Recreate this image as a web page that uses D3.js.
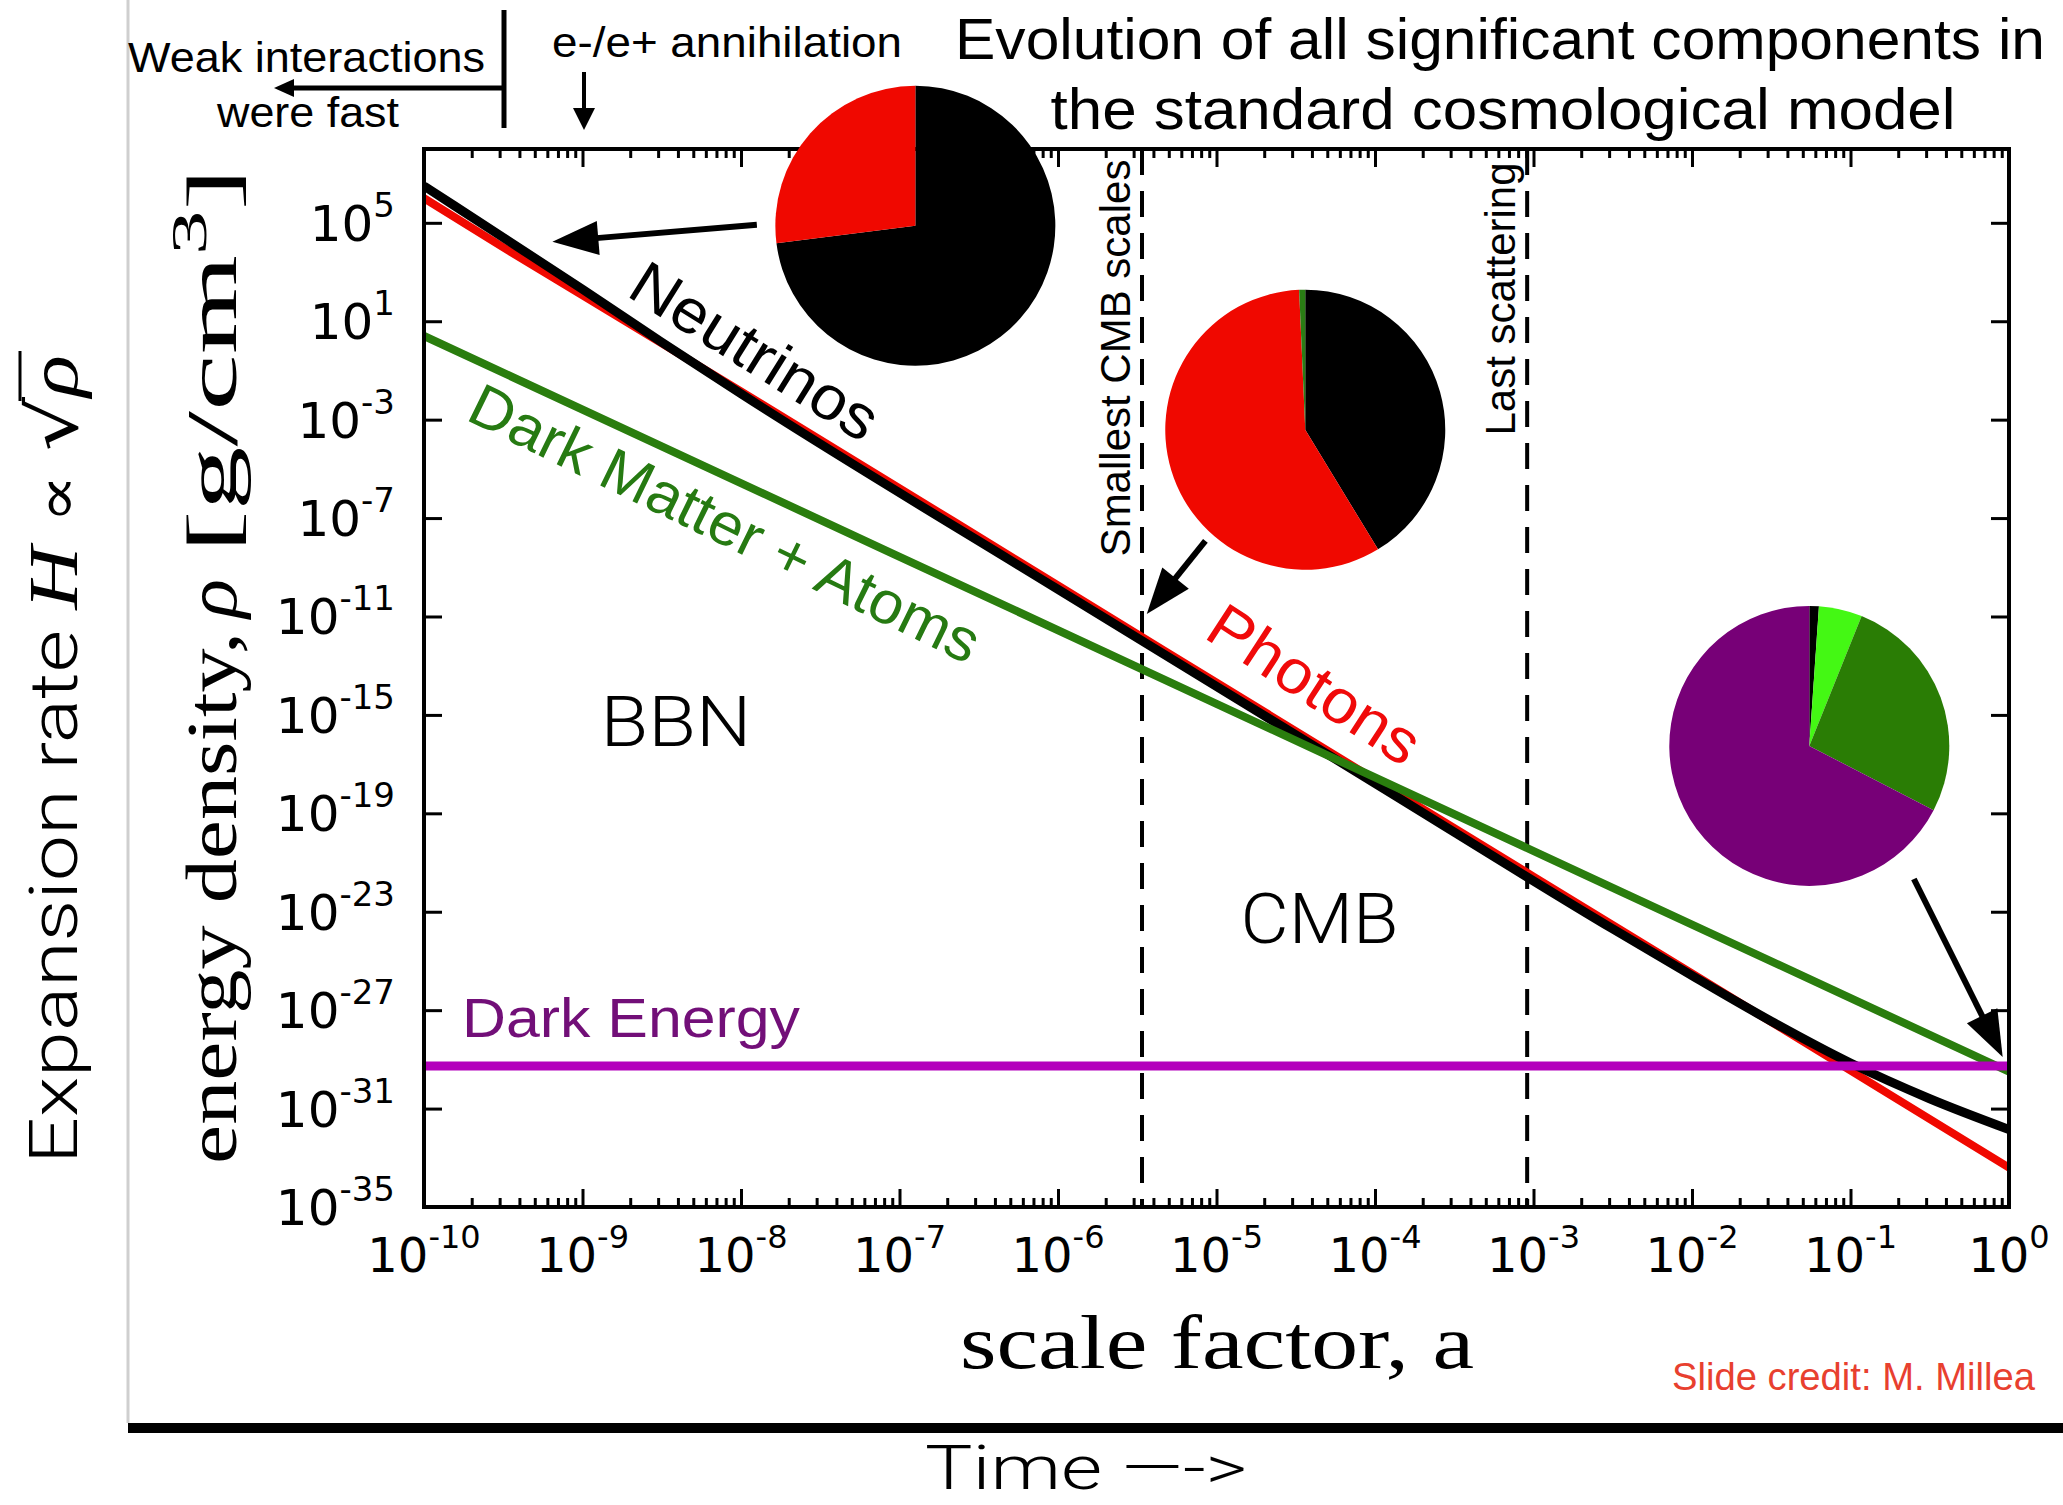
<!DOCTYPE html>
<html>
<head>
<meta charset="utf-8">
<script src="https://cdn.jsdelivr.net/npm/d3@7"></script>
<style>
  body { margin: 0; background: #fff; }
  svg { display: block; }
</style>
</head>
<body>
<div id="chart"></div>
<script>
// ---- data: log10(a) and log10(rho [g/cm^3]) ----
var photonsLogA     = [-10, -9.5, -9, -8.5, -8, -6, -4, -2, 0];
var photonsLogRho   = [6.0, 4.0, 2.05, 0.1, -1.85, -9.74, -17.63, -25.51, -33.4];

var neutrinosLogA   = [-10, -9.5, -9, -8.5, -8, -6, -4, -2.5, -2, -1.5, -1, -0.5, 0];
var neutrinosLogRho = [6.5, 4.4, 2.3, 0.15, -1.95, -9.9, -17.78, -23.7, -25.6, -27.45, -29.15, -30.6, -31.85];

var matterLogA      = [-10, -5, 0];
var matterLogRho    = [0.4, -14.55, -29.5];

var darkEnergyLogA   = [-10, 0];
var darkEnergyLogRho = [-29.27, -29.27];

// epochs marked with dashed lines (log10 a)
var epochNames = ["Smallest CMB scales", "Last scattering"];
var epochLogA  = [-5.47, -3.04];

// pie charts: energy budget fractions (%) at three epochs, clockwise from 12 o'clock
var pieEarly  = [73, 27];              // neutrinos, photons
var pieCMB    = [41.3, 58.0, 0.7];     // neutrinos, photons, matter
var pieToday  = [1.1, 5.0, 26.5, 67.4];// neutrinos, atoms, dark matter, dark energy
var pieEarlyColors = ["#000000", "#f00800"];
var pieCMBColors   = ["#000000", "#f00800", "#2a7d14"];
var pieTodayColors = ["#000000", "#44f814", "#2a7d05", "#770077"];
// pie centres (log10 a, log10 rho)
var pieCentres = [[-6.9, 4.88], [-4.44, -3.41], [-1.26, -16.26]];

// ticks
var xTickExp = d3.range(-10, 1);
var yTickExp = d3.range(-35, 6, 4);

var W = 2063, H = 1505;
var plot = {left: 424, right: 2009, top: 149, bottom: 1207};
var p10 = function(e) { return Math.pow(10, e); };

var x = d3.scaleLog().domain([1e-10, 1]).range([plot.left, plot.right]);
var y = d3.scaleLog().domain([1e-35, 1e8]).range([plot.bottom, plot.top]);

var svg = d3.select("#chart").append("svg")
    .attr("width", W)
    .attr("height", H);

var sans = "'Liberation Sans', Arial, Helvetica, sans-serif";
var light = "Roboto, 'Open Sans', Lato, sans-serif";
var serif = "'Liberation Serif', 'DejaVu Serif', serif";
var tickFont = "'DejaVu Sans', sans-serif";

// slide border lines
svg.append("line")
    .attr("x1", 128).attr("x2", 128).attr("y1", 0).attr("y2", 1423)
    .attr("stroke", "#cfcfcf").attr("stroke-width", 3);
svg.append("line")
    .attr("x1", 128).attr("x2", W).attr("y1", 1428).attr("y2", 1428)
    .attr("stroke", "#000").attr("stroke-width", 10);

// ---- axes (ticks point inward on all four sides) ----
var xMinor = [];
xTickExp.slice(0, -1).forEach(function(e) {
    for (var m = 2; m <= 9; m++) xMinor.push(m * p10(e));
});

function styleAxis(g) {
    g.select(".domain").remove();
    g.selectAll("line").attr("stroke", "#000").attr("stroke-width", 3);
    g.selectAll("text").remove();
}

svg.append("g").attr("transform", "translate(0," + plot.bottom + ")")
    .call(d3.axisBottom(x).tickValues(xTickExp.map(p10)).tickSize(-18)).call(styleAxis);
svg.append("g").attr("transform", "translate(0," + plot.bottom + ")")
    .call(d3.axisBottom(x).tickValues(xMinor).tickSize(-9)).call(styleAxis);
svg.append("g").attr("transform", "translate(0," + plot.top + ")")
    .call(d3.axisTop(x).tickValues(xTickExp.map(p10)).tickSize(-18)).call(styleAxis);
svg.append("g").attr("transform", "translate(0," + plot.top + ")")
    .call(d3.axisTop(x).tickValues(xMinor).tickSize(-9)).call(styleAxis);
svg.append("g").attr("transform", "translate(" + plot.left + ",0)")
    .call(d3.axisLeft(y).tickValues(yTickExp.map(p10)).tickSize(-18)).call(styleAxis);
svg.append("g").attr("transform", "translate(" + plot.right + ",0)")
    .call(d3.axisRight(y).tickValues(yTickExp.map(p10)).tickSize(-18)).call(styleAxis);

// tick labels 10^n
var xl = svg.append("g").selectAll("text").data(xTickExp).enter().append("text")
    .attr("x", function(d) { return x(p10(d)); })
    .attr("y", 1272)
    .attr("text-anchor", "middle")
    .style("font-family", tickFont);
xl.append("tspan").style("font-size", "48px").text("10");
xl.append("tspan").style("font-size", "32px").attr("dy", -24).text(function(d) { return d; });

var yl = svg.append("g").selectAll("text").data(yTickExp).enter().append("text")
    .attr("x", 395)
    .attr("y", function(d) { return y(p10(d)) + 18; })
    .attr("text-anchor", "end")
    .style("font-family", tickFont);
yl.append("tspan").style("font-size", "50px").text("10");
yl.append("tspan").style("font-size", "34px").attr("dy", -24).text(function(d) { return d; });

// ---- dashed epoch lines ----
svg.append("g").selectAll("line").data(epochLogA).enter().append("line")
    .attr("x1", function(d) { return x(p10(d)); })
    .attr("x2", function(d) { return x(p10(d)); })
    .attr("y1", plot.top).attr("y2", plot.bottom)
    .attr("stroke", "#000").attr("stroke-width", 4)
    .attr("stroke-dasharray", "26,16");

svg.append("g").selectAll("text").data(epochNames).enter().append("text")
    .attr("transform", function(d, i) {
        var cy = i === 0 ? 358 : 299;
        return "translate(" + (x(p10(epochLogA[i])) - 12) + "," + cy + ") rotate(-90)";
    })
    .attr("text-anchor", "middle")
    .style("font-family", sans).style("font-size", "42px")
    .text(function(d) { return d; });

// ---- curves ----
var line = d3.line()
    .x(function(d) { return x(p10(d[0])); })
    .y(function(d) { return y(p10(d[1])); })
    .curve(d3.curveMonotoneX);

var series = [
    {a: photonsLogA, r: photonsLogRho, color: "#f00800", w: 8},
    {a: neutrinosLogA, r: neutrinosLogRho, color: "#000000", w: 9},
    {a: matterLogA, r: matterLogRho, color: "#2a7d0e", w: 8},
    {a: darkEnergyLogA, r: darkEnergyLogRho, color: "#b400bc", w: 9}
];
svg.append("clipPath").attr("id", "plotclip").append("rect")
    .attr("x", plot.left).attr("y", plot.top)
    .attr("width", plot.right - plot.left).attr("height", plot.bottom - plot.top);

svg.append("g").attr("clip-path", "url(#plotclip)")
    .selectAll("path").data(series).enter().append("path")
    .attr("d", function(s) { return line(s.a.map(function(v, i) { return [v, s.r[i]]; })); })
    .attr("fill", "none")
    .attr("stroke", function(s) { return s.color; })
    .attr("stroke-width", function(s) { return s.w; });

// frame
svg.append("rect")
    .attr("x", plot.left).attr("y", plot.top)
    .attr("width", plot.right - plot.left).attr("height", plot.bottom - plot.top)
    .attr("fill", "none").attr("stroke", "#000").attr("stroke-width", 4);

// ---- in-plot labels ----
function rotLabel(txt, la, lr, angle, color, size, len) {
    svg.append("text")
        .attr("transform", "translate(" + x(p10(la)) + "," + y(p10(lr)) + ") rotate(" + angle + ")")
        .attr("text-anchor", "middle")
        .attr("dy", "0.35em")
        .attr("textLength", len).attr("lengthAdjust", "spacingAndGlyphs")
        .style("font-family", sans).style("font-size", size + "px")
        .attr("fill", color)
        .text(txt);
}
rotLabel("Neutrinos", -7.91, -0.2, 32, "#000", 62, 280);
rotLabel("Dark Matter + Atoms", -8.1, -7.2, 26, "#267a12", 60, 560);
rotLabel("Photons", -4.38, -13.74, 33, "#f00a0a", 62, 240);

svg.append("text")
    .attr("x", x(p10(-9.76))).attr("y", y(p10(-28.09)))
    .attr("textLength", 338).attr("lengthAdjust", "spacingAndGlyphs")
    .style("font-family", sans).style("font-size", "56px")
    .attr("fill", "#720f78")
    .text("Dark Energy");

svg.append("text")
    .attr("x", x(p10(-8.41))).attr("y", y(p10(-16.26)))
    .attr("text-anchor", "middle")
    .attr("textLength", 151).attr("lengthAdjust", "spacingAndGlyphs")
    .style("font-family", light).style("font-weight", 300).style("font-size", "70px")
    .text("BBN");
svg.append("text")
    .attr("x", x(p10(-4.35))).attr("y", y(p10(-24.27)))
    .attr("text-anchor", "middle")
    .attr("textLength", 158).attr("lengthAdjust", "spacingAndGlyphs")
    .style("font-family", light).style("font-weight", 300).style("font-size", "70px")
    .text("CMB");

// ---- pies ----
var pie = d3.pie().sort(null).value(function(d) { return d; });
var arc = d3.arc().innerRadius(0).outerRadius(140);
[[pieEarly, pieEarlyColors], [pieCMB, pieCMBColors], [pieToday, pieTodayColors]].forEach(function(p, k) {
    var c = pieCentres[k];
    svg.append("g")
        .attr("transform", "translate(" + x(p10(c[0])) + "," + y(p10(c[1])) + ")")
        .selectAll("path").data(pie(p[0])).enter().append("path")
        .attr("d", arc)
        .attr("fill", function(d, i) { return p[1][i]; });
});

// ---- arrows ----
function arrow(x1, y1, x2, y2, w, hl, hw) {
    var dx = x2 - x1, dy = y2 - y1, L = Math.sqrt(dx * dx + dy * dy);
    var ux = dx / L, uy = dy / L;
    var bx = x2 - ux * hl, by = y2 - uy * hl;
    svg.append("line")
        .attr("x1", x1).attr("y1", y1).attr("x2", bx + ux * 2).attr("y2", by + uy * 2)
        .attr("stroke", "#000").attr("stroke-width", w);
    svg.append("path")
        .attr("d", "M" + x2 + "," + y2 +
            "L" + (bx - uy * hw) + "," + (by + ux * hw) +
            "L" + (bx + uy * hw) + "," + (by - ux * hw) + "Z")
        .attr("fill", "#000");
}
function dataArrow(a1, r1, a2, r2) {
    arrow(x(p10(a1)), y(p10(r1)), x(p10(a2)), y(p10(r2)), 6, 46, 17);
}
dataArrow(-7.9, 4.92, -9.19, 4.23);
dataArrow(-5.07, -7.93, -5.44, -10.9);
dataArrow(-0.6, -21.67, -0.04, -28.9);

// ---- top annotations ----
svg.append("line").attr("x1", 504).attr("x2", 504).attr("y1", 10).attr("y2", 128)
    .attr("stroke", "#000").attr("stroke-width", 5);
arrow(504, 88, 274, 88, 5, 20, 9);
arrow(584, 72, 584, 130, 4, 22, 11);

svg.append("text").attr("x", 128).attr("y", 72)
    .attr("textLength", 357).attr("lengthAdjust", "spacingAndGlyphs")
    .style("font-family", sans).style("font-size", "42px").text("Weak interactions");
svg.append("text").attr("x", 217).attr("y", 127)
    .attr("textLength", 182).attr("lengthAdjust", "spacingAndGlyphs")
    .style("font-family", sans).style("font-size", "42px").text("were fast");
svg.append("text").attr("x", 552).attr("y", 57)
    .attr("textLength", 350).attr("lengthAdjust", "spacingAndGlyphs")
    .style("font-family", sans).style("font-size", "42px").text("e-/e+ annihilation");

svg.append("text").attr("x", 1500).attr("y", 59)
    .attr("text-anchor", "middle")
    .attr("textLength", 1090).attr("lengthAdjust", "spacingAndGlyphs")
    .style("font-family", sans).style("font-size", "58px")
    .text("Evolution of all significant components in");
svg.append("text").attr("x", 1503).attr("y", 129)
    .attr("text-anchor", "middle")
    .attr("textLength", 905).attr("lengthAdjust", "spacingAndGlyphs")
    .style("font-family", sans).style("font-size", "58px")
    .text("the standard cosmological model");

// ---- axis titles ----
svg.append("text").attr("x", 960).attr("y", 1368)
    .attr("textLength", 514).attr("lengthAdjust", "spacingAndGlyphs")
    .style("font-family", serif).style("font-size", "76px")
    .text("scale factor, a");

var yt = svg.append("g").attr("transform", "translate(236,666) rotate(-90)");
yt.append("text").attr("x", -498).attr("y", 0)
    .attr("textLength", 532).attr("lengthAdjust", "spacingAndGlyphs")
    .style("font-family", serif).style("font-size", "72px")
    .text("energy density,");
yt.append("text").attr("x", 48).attr("y", 0)
    .attr("textLength", 39).attr("lengthAdjust", "spacingAndGlyphs")
    .style("font-family", serif).style("font-style", "italic").style("font-size", "72px")
    .text("ρ");
var unit = yt.append("text").attr("x", 113).attr("y", 0)
    .attr("textLength", 385).attr("lengthAdjust", "spacingAndGlyphs")
    .style("font-family", serif).style("font-size", "72px");
unit.append("tspan").text("[g/cm");
unit.append("tspan").attr("dy", -30).style("font-size", "50px").text("3");
unit.append("tspan").attr("dy", 30).text("]");

// Expansion rate H ∝ √ρ  (stretched along its length like the slide)
var eg = svg.append("g").attr("transform", "translate(77,760) rotate(-90)");
var et = eg.append("text").attr("x", -404).attr("y", 0)
    .attr("textLength", 809).attr("lengthAdjust", "spacingAndGlyphs");
et.append("tspan").style("font-family", light).style("font-weight", 300).style("font-size", "66px")
    .text("Expansion rate ");
et.append("tspan").style("font-family", serif).style("font-style", "italic").style("font-size", "70px")
    .text("H");
et.append("tspan").style("font-family", "'DejaVu Serif', serif").style("font-size", "58px")
    .text(" \u221D ");
et.append("tspan").style("font-family", "'DejaVu Serif', serif").style("font-size", "68px")
    .text("\u221A");
et.append("tspan").style("font-family", serif).style("font-style", "italic").style("font-size", "70px")
    .text("ρ");
var n = et.text().length;
var sq = et.node().getExtentOfChar(n - 2);
var rh = et.node().getExtentOfChar(n - 1);
eg.append("line")
    .attr("x1", sq.x + sq.width - 4).attr("x2", rh.x + rh.width + 4)
    .attr("y1", sq.y + 6).attr("y2", sq.y + 6)
    .attr("stroke", "#000").attr("stroke-width", 3);

svg.append("text").attr("x", 925).attr("y", 1489)
    .attr("textLength", 322).attr("lengthAdjust", "spacingAndGlyphs")
    .style("font-family", light).style("font-weight", 300).style("font-size", "62px")
    .text("Time \u2014->");

svg.append("text").attr("x", 1672).attr("y", 1390)
    .attr("textLength", 363).attr("lengthAdjust", "spacingAndGlyphs")
    .style("font-family", sans).style("font-size", "38px")
    .attr("fill", "#e8402f")
    .text("Slide credit: M. Millea");
</script>
</body>
</html>
